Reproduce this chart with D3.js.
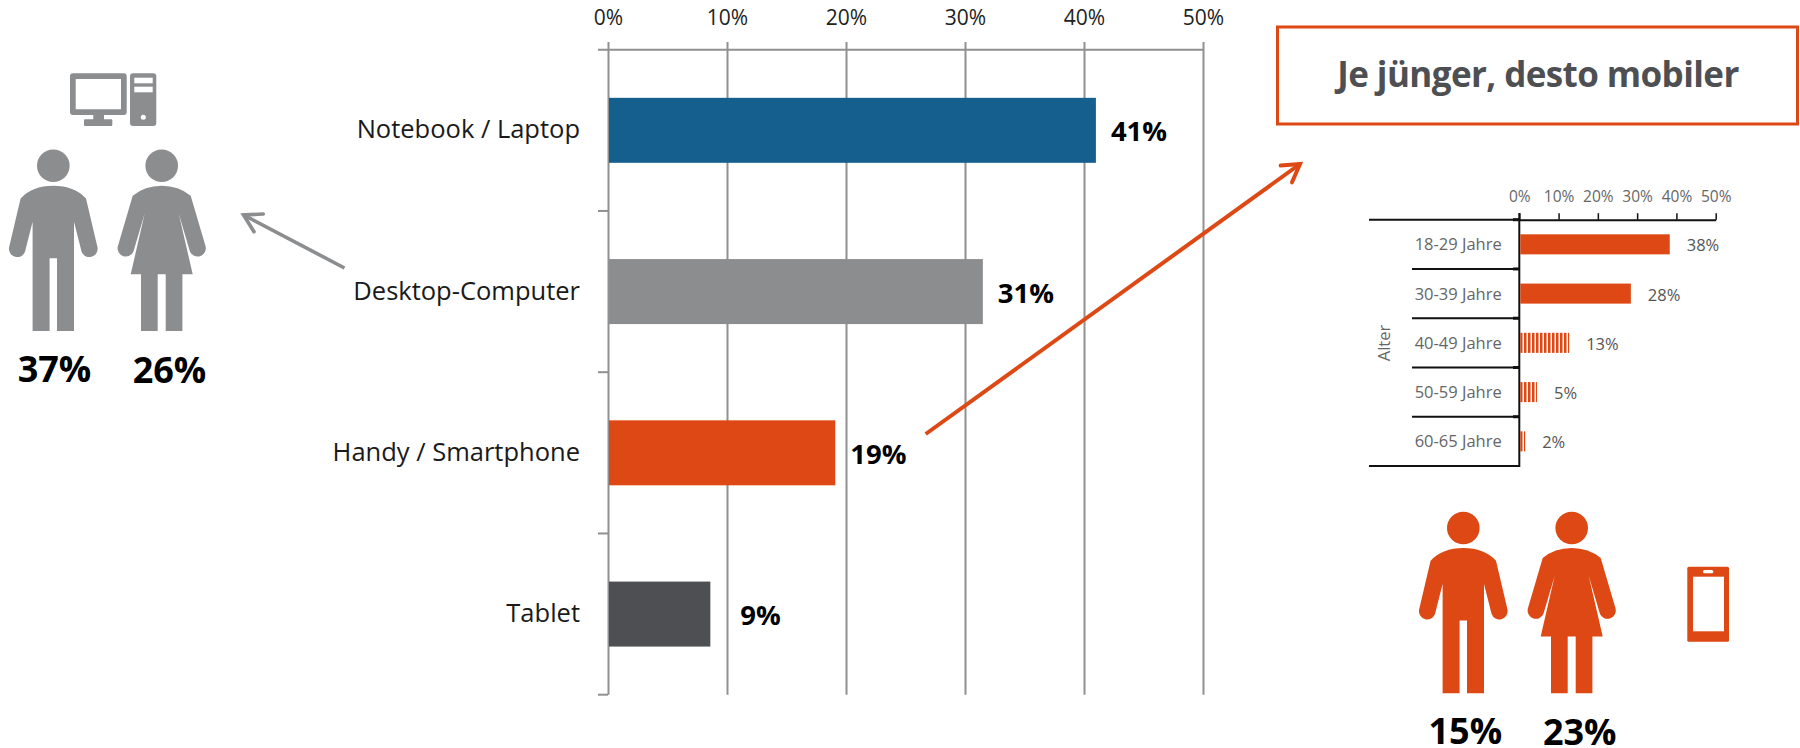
<!DOCTYPE html>
<html lang="de">
<head>
<meta charset="utf-8">
<title>Je jünger, desto mobiler</title>
<script src="https://cdn.jsdelivr.net/npm/d3@7"></script>
<style>
  html, body { margin: 0; padding: 0; background: #fff; overflow: hidden; }
  svg { display: block; }
  text { font-family: "Open Sans", "Noto Sans", sans-serif; }
</style>
</head>
<body>
<svg id="chart" width="1800" height="748"></svg>
<script>
// Main chart data
const devices = ["Notebook / Laptop", "Desktop-Computer", "Handy / Smartphone", "Tablet"];
const deviceValues = [41, 31.5, 19.1, 8.6];
const deviceLabels = ["41%", "31%", "19%", "9%"];
const deviceColors = ["#155f8e", "#8c8d8f", "#dd4814", "#4e4f52"];
const mainTicks = [0, 10, 20, 30, 40, 50];

// Age breakdown (small chart)
const ageGroups = ["18-29 Jahre", "30-39 Jahre", "40-49 Jahre", "50-59 Jahre", "60-65 Jahre"];
const ageValues = [38.3, 28.4, 12.7, 4.5, 1.5];
const ageLabels = ["38%", "28%", "13%", "5%", "2%"];
const ageStriped = [false, false, true, true, true];
const ageTicks = [0, 10, 20, 30, 40, 50];

// Pictogram labels
const desktopShares = ["37%", "26%"];
const mobileShares = ["15%", "23%"];

const orange = "#dd4814";
const grey = "#8c8d8f";
const axisGrey = "#909090";

const svg = d3.select("#chart");

// --- main bar chart ---
const x = d3.scaleLinear().domain([0, 50]).range([608, 1203]);
const y = d3.scaleBand().domain(devices).range([49.7, 694.7]).paddingInner(0.597).paddingOuter(0.2985);
const gridTop = 42;

const xAxis = d3.axisTop(x)
    .tickValues(mainTicks)
    .tickFormat(d => d + "%")
    .tickSizeInner(-(694.7 - gridTop))
    .tickSizeOuter(0)
    .tickPadding(17);

const gx = svg.append("g").attr("transform", `translate(0,${gridTop})`).call(xAxis);
gx.select(".domain").remove();
gx.selectAll("line").attr("stroke", axisGrey).attr("stroke-width", 2);
gx.selectAll("text").attr("font-size", 21).attr("fill", "#222");

// top axis line + category ticks on the left
svg.append("line").attr("x1", 598).attr("x2", 1203).attr("y1", 49.7).attr("y2", 49.7)
    .attr("stroke", axisGrey).attr("stroke-width", 2);
svg.selectAll(".catTick")
    .data(d3.range(1, devices.length + 1))
    .enter().append("line")
    .attr("class", "catTick")
    .attr("x1", 598).attr("x2", 608)
    .attr("y1", i => 49.7 + i * y.step())
    .attr("y2", i => 49.7 + i * y.step())
    .attr("stroke", axisGrey).attr("stroke-width", 2);

svg.selectAll(".bar")
    .data(devices)
    .enter().append("rect")
    .attr("class", "bar")
    .attr("x", x(0) + 1)
    .attr("y", d => y(d))
    .attr("width", (d, i) => x(deviceValues[i]) - x(0) - 1)
    .attr("height", y.bandwidth())
    .attr("fill", (d, i) => deviceColors[i]);

svg.selectAll(".cat")
    .data(devices)
    .enter().append("text")
    .attr("class", "cat")
    .attr("x", 580)
    .attr("y", d => y(d) + y.bandwidth() / 2 + 8)
    .attr("text-anchor", "end")
    .attr("font-size", 25.5)
    .attr("fill", "#1a1a1a")
    .text(d => d);

// the tablet label sits further away from its bar
const labelGap = d => d === "Tablet" ? 30 : 15;
svg.selectAll(".val")
    .data(devices)
    .enter().append("text")
    .attr("class", "val")
    .attr("x", (d, i) => x(deviceValues[i]) + labelGap(d))
    .attr("y", d => y(d) + y.bandwidth() / 2 + 11)
    .attr("font-size", 27.5)
    .attr("font-weight", 700)
    .attr("fill", "#000")
    .text((d, i) => deviceLabels[i]);

// --- callout box ---
svg.append("rect").attr("x", 1277.5).attr("y", 27).attr("width", 520).attr("height", 97)
    .attr("fill", "#fff").attr("stroke", orange).attr("stroke-width", 3);
svg.append("text").attr("x", 1538).attr("y", 87).attr("text-anchor", "middle")
    .attr("font-size", 35).attr("font-weight", 700).attr("fill", "#4e4f52")
    .attr("letter-spacing", -0.6)
    .text("Je jünger, desto mobiler");

// --- small age chart ---
const ax = d3.scaleLinear().domain([0, 50]).range([1519.3, 1715.7]);
const ay = d3.scaleBand().domain(ageGroups).range([219.7, 466]).paddingInner(0.593).paddingOuter(0.2965);

// whole-pixel stripes so they stay crisp
const defs = svg.append("defs");
defs.append("pattern")
    .attr("id", "stripes")
    .attr("patternUnits", "userSpaceOnUse")
    .attr("x", 1520)
    .attr("width", 4).attr("height", 10)
    .append("rect").attr("width", 2.5).attr("height", 10).attr("fill", orange);

const ageAxis = d3.axisTop(ax)
    .tickValues(ageTicks)
    .tickFormat(d => d + "%")
    .tickSizeInner(6.5)
    .tickSizeOuter(0)
    .tickPadding(11);
const gax = svg.append("g").attr("transform", "translate(0,219.7)").call(ageAxis);
gax.select(".domain").attr("stroke", "#111").attr("stroke-width", 2);
gax.selectAll("line").attr("stroke", "#111").attr("stroke-width", 1.5);
gax.selectAll("text").attr("font-size", 15.5).attr("fill", "#666");

// row separators and the outer lines of the category column
const rowEdges = d3.range(0, ageGroups.length + 1).map(i => 219.7 + i * ay.step());
svg.selectAll(".sep")
    .data(rowEdges)
    .enter().append("line")
    .attr("class", "sep")
    .attr("x1", (d, i) => (i === 0 || i === ageGroups.length) ? 1369 : 1412)
    .attr("x2", 1519.3)
    .attr("y1", d => d).attr("y2", d => d)
    .attr("stroke", "#111").attr("stroke-width", 2);
svg.selectAll(".sepTick")
    .data(rowEdges.slice(0, -1))
    .enter().append("line")
    .attr("class", "sepTick")
    .attr("x1", 1513).attr("x2", 1519.3)
    .attr("y1", d => d).attr("y2", d => d)
    .attr("stroke", "#111").attr("stroke-width", 3);
svg.append("line").attr("x1", 1519.3).attr("x2", 1519.3).attr("y1", 213).attr("y2", 467)
    .attr("stroke", "#111").attr("stroke-width", 2);

svg.selectAll(".ageBar")
    .data(ageGroups)
    .enter().append("rect")
    .attr("class", "ageBar")
    .attr("x", ax(0) + 1)
    .attr("y", d => ay(d))
    .attr("width", (d, i) => ax(ageValues[i]) - ax(0) - 1)
    .attr("height", ay.bandwidth())
    .attr("fill", (d, i) => ageStriped[i] ? "url(#stripes)" : orange);

svg.selectAll(".ageCat")
    .data(ageGroups)
    .enter().append("text")
    .attr("class", "ageCat")
    .attr("x", 1501.7)
    .attr("y", d => ay(d) + ay.bandwidth() / 2 + 6)
    .attr("text-anchor", "end")
    .attr("font-size", 16.5)
    .attr("fill", "#666")
    .text(d => d);

svg.selectAll(".ageVal")
    .data(ageGroups)
    .enter().append("text")
    .attr("class", "ageVal")
    .attr("x", (d, i) => ax(ageValues[i]) + 17)
    .attr("y", d => ay(d) + ay.bandwidth() / 2 + 7)
    .attr("font-size", 16.5)
    .attr("fill", "#555")
    .text((d, i) => ageLabels[i]);

svg.append("text")
    .attr("transform", "translate(1390,343) rotate(-90)")
    .attr("text-anchor", "middle")
    .attr("font-size", 16.5)
    .attr("fill", "#666")
    .text("Alter");

// --- pictograms ---
function manPath() {
    return "M0,20 Q21,20 32.7,32.7 L44.3,82 A8.3,8.3 0 0 1 28.3,86 L20.7,56 L20.7,165.3 L3.7,165.3 L3.7,92.6 " +
        "L-3.7,92.6 L-3.7,165.3 L-20.7,165.3 L-20.7,56 L-28.3,86 A8.3,8.3 0 0 1 -44.3,82 L-32.7,32.7 Q-21,20 0,20 Z";
}

function womanPath() {
    return "M0,20 Q17,20 29,30 L44,81 A8.3,8.3 0 0 1 28.3,86 L17,47.7 L31,108.6 L20.7,108.6 L20.7,165.3 L4,165.3 L4,108.6 " +
        "L-4,108.6 L-4,165.3 L-20.7,165.3 L-20.7,108.6 L-31,108.6 L-17,47.7 L-28.3,86 A8.3,8.3 0 0 1 -44,81 L-29,30 Q-17,20 0,20 Z";
}

function person(cx, cy, d, color) {
    const g = svg.append("g").attr("transform", `translate(${cx},${cy})`).attr("fill", color);
    g.append("circle").attr("r", 16.3);
    g.append("path").attr("d", d);
}

person(53.3, 165.7, manPath(), grey);
person(161.7, 165.7, womanPath(), grey);
person(1463.3, 528, manPath(), orange);
person(1571.7, 528, womanPath(), orange);

function shareLabels(labels, xs, ys) {
    labels.forEach((t, i) => {
        svg.append("text").attr("x", xs[i]).attr("y", ys[i]).attr("text-anchor", "middle")
            .attr("font-size", 36).attr("font-weight", 700).attr("fill", "#000").text(t);
    });
}
shareLabels(desktopShares, [54.5, 169.5], [382, 383]);
shareLabels(mobileShares, [1465.3, 1579.7], [744, 745]);

// desktop computer icon
const pc = svg.append("g").attr("fill", grey);
pc.append("path").attr("fill-rule", "evenodd")
    .attr("d", "M73,73.3 H123.7 Q126.7,73.3 126.7,76.3 V112 Q126.7,115 123.7,115 H73 Q70,115 70,112 V76.3 Q70,73.3 73,73.3 Z M75.7,79 V109.3 H121 V79 Z");
pc.append("rect").attr("x", 93.3).attr("y", 115).attr("width", 10.7).attr("height", 5);
pc.append("rect").attr("x", 84).attr("y", 119.3).attr("width", 28.3).attr("height", 6.7).attr("rx", 1);
pc.append("rect").attr("x", 130).attr("y", 73.3).attr("width", 26.3).attr("height", 52.7).attr("rx", 3);
pc.append("rect").attr("x", 134.3).attr("y", 77.7).attr("width", 18.4).attr("height", 5.6).attr("fill", "#fff");
pc.append("rect").attr("x", 134.3).attr("y", 86.7).attr("width", 18.4).attr("height", 5.6).attr("fill", "#fff");
pc.append("circle").attr("cx", 143.3).attr("cy", 117.3).attr("r", 2.5).attr("fill", "#fff");

// phone icon
const phone = svg.append("g");
phone.append("rect").attr("x", 1687.3).attr("y", 566.7).attr("width", 41.7).attr("height", 75).attr("rx", 1.5).attr("fill", orange);
phone.append("rect").attr("x", 1693).attr("y", 576.7).attr("width", 31).attr("height", 54.6).attr("fill", "#fff");
phone.append("rect").attr("x", 1703).attr("y", 570).attr("width", 10.3).attr("height", 3.3).attr("rx", 1.5).attr("fill", "#fff");

// --- arrows ---
function arrow(tail, tip, barbA, barbB, color, w) {
    const g = svg.append("g").attr("fill", "none").attr("stroke", color).attr("stroke-width", w);
    const line = d3.line();
    g.append("path").attr("d", line([tail, tip]));
    g.append("path").attr("stroke-linecap", "round").attr("stroke-linejoin", "miter").attr("d", line([barbA, tip, barbB]));
}
arrow([344.5, 268], [243.5, 215], [263.3, 214], [254, 231.7], grey, 3.6);
arrow([925.7, 434], [1300, 164], [1280.7, 165.5], [1292, 182.3], orange, 4);
</script>
</body>
</html>
